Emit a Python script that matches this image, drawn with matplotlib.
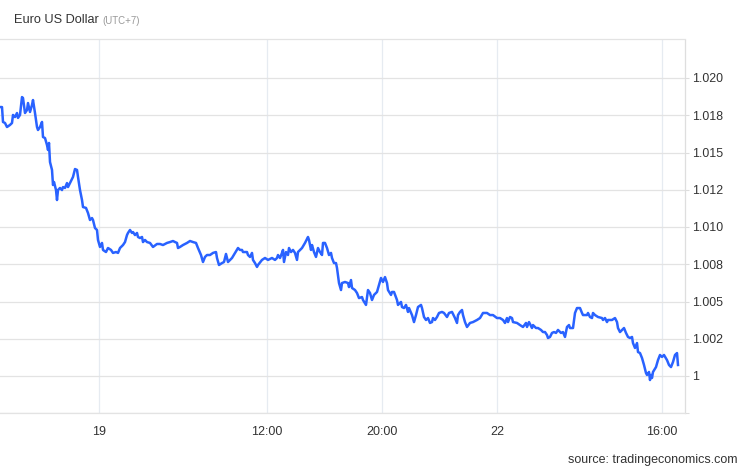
import matplotlib
matplotlib.use("Agg")
import matplotlib.pyplot as plt

plt.rcParams['font.family'] = ['Liberation Sans', 'DejaVu Sans']

# ---- data ----
t = [0,2,3,5,7,10,12,13,15,17,18,20,22,23,25,27,28,30,32,33,35,37,38,40,42,43,45,47,48,49,
     50,52,53,54,56,57,58,60,62,63,65,67,68,70,73,75,77,78,80,82,83,86,88,90,92,93,95,97,98,100,
     102,103,106,108,111,
     113,116,118,120,123,125,127,128,130,132,133,135,137,138,140,142,143,145,147,150,153,157,160,163,
     167,170,173,175,177,178,180,183,187,190,193,196,198,201,203,205,207,210,213,216,217,219,222,224,
     226,228,230,
     232,235,238,240,242,243,247,248,250,252,253,255,257,258,262,265,268,272,275,277,278,280,282,283,
     284,286,288,289,291,293,295,297,298,302,305,308,309,311,312,314,316,318,320,322,323,325,327,329,
     331,332,334,336,337,339,
     341,342,345,348,349,351,352,355,357,359,362,363,366,368,370,372,374,377,379,381,383,385,387,388,
     391,392,394,397,398,401,402,404,406,408,409,412,414,416,418,421,422,424,426,428,430,432,433,435,
     437,439,442,444,447,449,452,
     455,457,458,460,462,463,465,467,470,473,477,480,483,487,490,493,497,500,503,505,507,508,510,512,
     513,517,520,523,526,527,529,532,533,536,538,541,543,545,547,548,550,552,554,556,558,561,563,565,
     567,569,
     570,572,573,575,577,580,582,583,587,588,590,592,593,595,598,602,603,605,607,608,612,615,617,618,
     620,622,624,626,628,630,632,633,635,637,638,640,642,644,646,647,649,650,651,652,653,656,658,660,
     662,664,667,669,671,673,675,677,678]

price = [1.01805,1.01805,1.01705,1.01698,1.01671,1.01685,1.01698,1.01752,1.01738,1.01765,
         1.01732,1.01752,1.01872,1.01866,1.01765,1.01785,1.01832,1.01772,1.01819,1.01852,
         1.01765,1.01671,1.01651,1.01671,1.01705,1.01604,1.01597,1.01550,1.01517,1.01564,
         1.01436,1.01383,1.01282,1.01302,1.01248,1.01181,1.01248,1.01262,1.01248,1.01268,
         1.01262,1.01295,1.01268,1.01295,1.01336,1.01389,1.01383,1.01336,1.01248,1.01181,
         1.01134,1.01128,1.01094,1.01047,1.01060,1.01047,1.00993,1.00980,1.00913,1.00866,
         1.00893,1.00846,1.00832,1.00859,1.00846,
         1.00826,1.00832,1.00826,1.00859,1.00879,1.00899,1.00946,1.00960,1.00980,1.00960,
         1.00966,1.00946,1.00960,1.00933,1.00926,1.00933,1.00899,1.00913,1.00899,1.00893,
         1.00866,1.00886,1.00886,1.00879,1.00893,1.00899,1.00906,1.00899,1.00893,1.00859,
         1.00866,1.00879,1.00893,1.00906,1.00899,1.00893,1.00859,1.00812,1.00765,1.00799,
         1.00812,1.00812,1.00826,1.00832,1.00792,1.00745,1.00758,1.00765,1.00819,1.00765,
         1.00779,
         1.00792,1.00826,1.00859,1.00846,1.00846,1.00832,1.00832,1.00812,1.00799,1.00826,
         1.00779,1.00758,1.00732,1.00745,1.00779,1.00792,1.00779,1.00792,1.00779,1.00792,
         1.00812,1.00792,1.00826,1.00846,1.00765,1.00832,1.00812,1.00859,1.00832,1.00846,
         1.00826,1.00779,1.00832,1.00859,1.00893,1.00933,1.00913,1.00846,1.00879,1.00832,
         1.00799,1.00859,1.00832,1.00812,1.00893,1.00893,1.00859,1.00812,1.00826,1.00792,
         1.00758,1.00758,1.00725,1.00624,
         1.00577,1.00624,1.00631,1.00624,1.00597,1.00644,1.00591,1.00577,1.00557,1.00523,
         1.00530,1.00510,1.00477,1.00577,1.00557,1.00510,1.00544,1.00564,1.00611,1.00658,
         1.00631,1.00664,1.00624,1.00577,1.00544,1.00564,1.00564,1.00510,1.00477,1.00497,
         1.00463,1.00456,1.00477,1.00430,1.00456,1.00409,1.00362,1.00409,1.00463,1.00477,
         1.00456,1.00396,1.00376,1.00389,1.00356,1.00362,1.00389,1.00376,1.00396,1.00423,
         1.00430,1.00423,1.00396,1.00423,1.00430,
         1.00389,1.00356,1.00409,1.00430,1.00443,1.00409,1.00362,1.00329,1.00356,1.00362,
         1.00376,1.00389,1.00423,1.00423,1.00409,1.00409,1.00389,1.00389,1.00376,1.00356,
         1.00389,1.00362,1.00396,1.00389,1.00362,1.00356,1.00342,1.00329,1.00356,1.00329,
         1.00362,1.00322,1.00342,1.00322,1.00322,1.00309,1.00295,1.00295,1.00275,1.00255,
         1.00262,1.00289,1.00295,1.00289,1.00309,1.00289,1.00295,1.00262,1.00329,1.00342,
         1.00322,1.00322,1.00322,1.00423,1.00456,1.00456,1.00423,1.00409,1.00409,1.00423,
         1.00396,1.00389,1.00423,1.00409,1.00396,1.00389,1.00376,1.00389,1.00362,1.00376,
         1.00376,1.00389,1.00362,1.00322,1.00295,1.00309,1.00322,1.00289,1.00262,1.00255,
         1.00262,1.00221,1.00188,1.00221,1.00161,1.00154,1.00121,1.00074,1.00020,1.00007,
         1.00027,0.99973,1.00007,0.99987,1.00027,1.00060,1.00107,1.00141,1.00128,1.00141,
         1.00107,1.00074,1.00060,1.00094,1.00141,1.00154,1.00074]

x_tick_pos = [99, 267, 382, 497, 662]
x_tick_labels = ['19', '12:00', '20:00', '22', '16:00']
y_ticks = [0.9975, 1.0, 1.0025, 1.005, 1.0075, 1.01, 1.0125, 1.015, 1.0175, 1.02]
y_tick_labels = ['', '1', '1.002', '1.005', '1.008', '1.010', '1.012', '1.015', '1.018', '1.020']

title = 'Euro US Dollar'
subtitle = '(UTC+7)'
source = 'source: tradingeconomics.com'

# ---- figure ----
W, H = 746, 468
fig = plt.figure(figsize=(W / 100, H / 100), dpi=100)
fig.patch.set_facecolor('white')
top_px, bot_px, right_px = 39.5, 413.25, 684.5
ax = fig.add_axes([0, 1 - bot_px / H, right_px / W, (bot_px - top_px) / H])

ax.plot(t, price, color='#2962ff', lw=1.8, solid_joinstyle='round', zorder=3)

ax.set_xlim(0, 684.5)
ax.set_ylim(0.9975, 1.0225 + 0.0025 * 1.25 / 37.25)

ax.set_yticks(y_ticks)
ax.set_yticklabels(y_tick_labels)
ax.yaxis.tick_right()
ax.tick_params(axis='y', length=3, width=0.8, color='#dddddd', pad=2.5,
               labelsize=8.9, labelcolor='#333333')

ax.set_xticks(x_tick_pos)
ax.set_xticklabels(x_tick_labels)
ax.tick_params(axis='x', length=0, pad=9, labelsize=9.0, labelcolor='#333333')

ax.grid(axis='y', color='#e3e3e3', lw=0.9, zorder=0)
ax.grid(axis='x', color='#e6ebf1', lw=0.9, zorder=0)

ax.spines['left'].set_visible(False)
ax.spines['top'].set_color('#e3e3e3')
ax.spines['top'].set_linewidth(0.9)
ax.spines['bottom'].set_color('#e3e3e3')
ax.spines['bottom'].set_linewidth(0.9)
ax.spines['right'].set_color('#dedede')
ax.spines['right'].set_linewidth(0.9)

fig.text(14 / W, 1 - 20 / H, title, fontsize=9.2, color='#333333', va='center', ha='left')
fig.text(102 / W, 1 - 20.5 / H, subtitle, fontsize=6.9, color='#999999', va='center', ha='left')
fig.text(738 / W, 1 - 460 / H, source, fontsize=9.0, color='#333333', va='center', ha='right')

fig.savefig('out.png', dpi=100, facecolor='white')
